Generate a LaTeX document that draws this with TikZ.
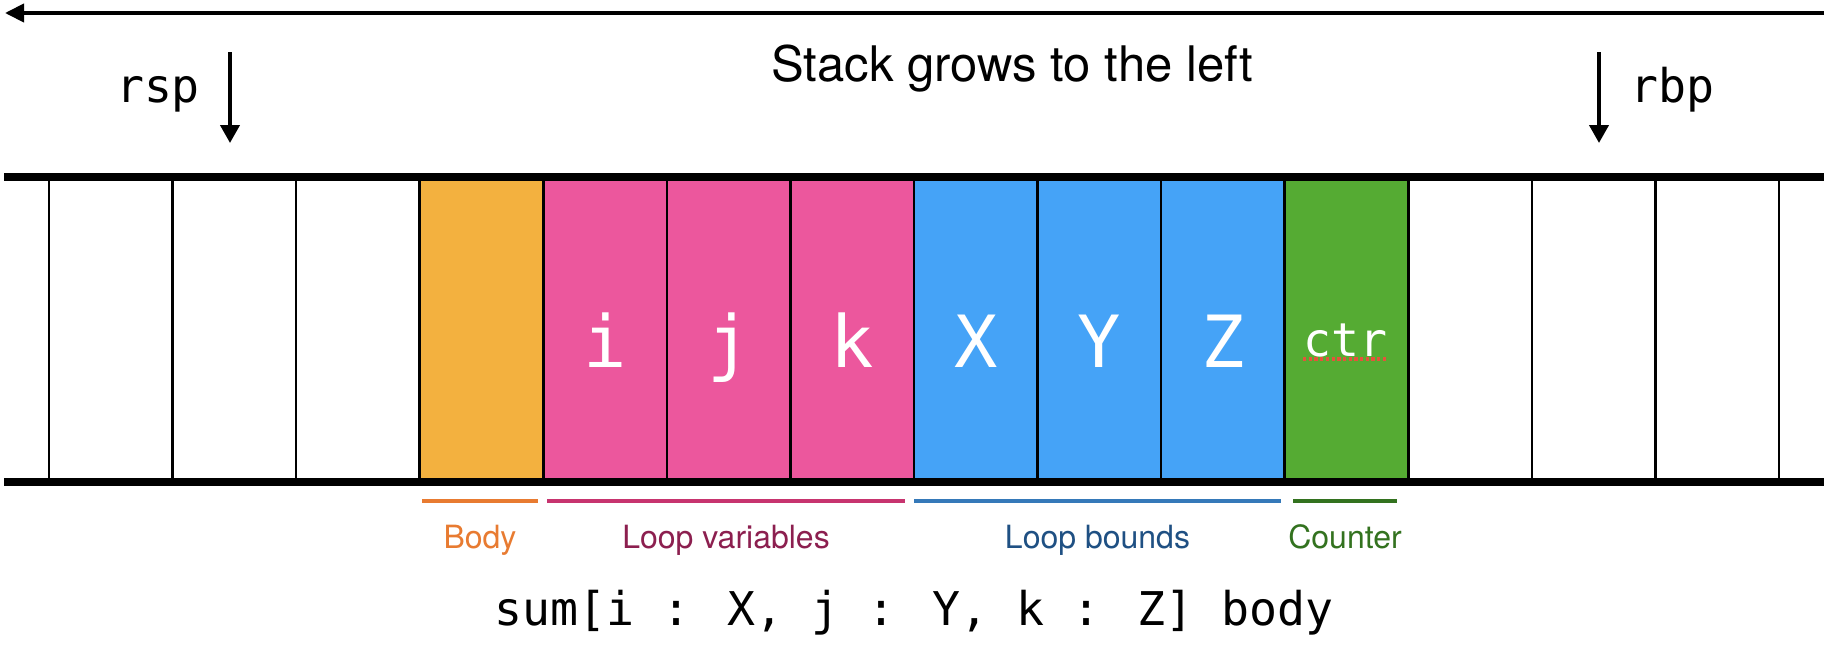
\documentclass[tikz,border=0pt]{standalone}
\usepackage{fontspec}
\setmainfont{TeX Gyre Heros}
\newfontfamily\monofont{DejaVu Sans Mono}
\usetikzlibrary{arrows.meta}
\definecolor{cellorange}{HTML}{F3B13F}
\definecolor{cellpink}{HTML}{EC579D}
\definecolor{cellblue}{HTML}{45A3F7}
\definecolor{cellgreen}{HTML}{55AB33}
\definecolor{barorange}{HTML}{E87B31}
\definecolor{barpink}{HTML}{C7346F}
\definecolor{txtpink}{HTML}{8C1F4F}
\definecolor{barblue}{HTML}{3579B9}
\definecolor{txtblue}{HTML}{1F5083}
\definecolor{bargreen}{HTML}{33721F}
\definecolor{spellred}{HTML}{E5533C}
\begin{document}
\begin{tikzpicture}[x=1pt,y=-1pt,
  cellbox/.style={rectangle, inner sep=0pt, outer sep=0pt, draw=none,
    minimum width=123.6pt, minimum height=305pt},
  divider/.style={line width=2.5pt, black},
  rail/.style={line width=8pt, black},
  ptr/.style={line width=4pt, black, -{Triangle[length=18pt,width=19pt]}},
  celltext/.style={inner sep=0pt, anchor=base, text=white, font=\monofont\fontsize{72}{86}\selectfont},
  codetext/.style={inner sep=0pt, anchor=base, font=\monofont\fontsize{46.5}{56}\selectfont},
  labeltext/.style={inner sep=0pt, anchor=base, font=\fontsize{32}{38}\selectfont},
  bar/.style={line width=4pt}]
\useasboundingbox (0,0) rectangle (1840,656);
\fill[white] (0,0) rectangle (1840,656);

% coloured cells
\node[cellbox, fill=cellorange] (body) at (481.5,329.5) {};
\node[cellbox, fill=cellpink] (ci) at (605.1,329.5) {};
\node[cellbox, fill=cellpink] (cj) at (728.7,329.5) {};
\node[cellbox, fill=cellpink] (ck) at (852.2,329.5) {};
\node[cellbox, fill=cellblue] (cx) at (975.8,329.5) {};
\node[cellbox, fill=cellblue] (cy) at (1099.4,329.5) {};
\node[cellbox, fill=cellblue] (cz) at (1223,329.5) {};
\node[cellbox, fill=cellgreen] (cctr) at (1346.6,329.5) {};

% dividers
\foreach \n in {0,...,14} {
  \draw[divider] ({49+123.57*\n},177) -- ({49+123.57*\n},482);
}

% rails
\coordinate (railTL) at (4,177);
\coordinate (railTR) at (1824,177);
\coordinate (railBL) at (4,482);
\coordinate (railBR) at (1824,482);
\draw[rail] (railTL) -- (railTR);
\draw[rail] (railBL) -- (railBR);

% cell texts
\node[celltext] (ti) at (605.1,367) {i};
\node[celltext] (tj) at (728.7,367) {j};
\node[celltext] (tk) at (852.2,367) {k};
\node[celltext] (tx) at (975.8,367) {X};
\node[celltext] (ty) at (1099.4,367) {Y};
\node[celltext] (tz) at (1223,367) {Z};
\node[codetext, text=white] (tctr) at (1345,356) {ctr};
\coordinate (ulA) at (1303,359);
\coordinate (ulB) at (1387,359);
\draw[spellred, line width=3.3pt, dash pattern=on 3.3pt off 2.4pt] (ulA) -- (ulB);

% top arrow and title
\coordinate (growR) at (1824,13);
\coordinate (growL) at (5,13);
\draw[line width=4pt, -{Triangle[length=19pt,width=18pt]}] (growR) -- (growL);
\node[inner sep=0pt, anchor=base, font=\fontsize{49}{58}\selectfont] (title) at (1012,81) {Stack grows to the left};

% pointers
\node[codetext] (rsp) at (158,102) {rsp};
\coordinate (rspA) at (230,52);
\coordinate (rspB) at (230,143);
\draw[ptr] (rspA) -- (rspB);
\node[codetext] (rbp) at (1672,102) {rbp};
\coordinate (rbpA) at (1599,52);
\coordinate (rbpB) at (1599,143);
\draw[ptr] (rbpA) -- (rbpB);

% bracket bars
\coordinate (b1a) at (422,501); \coordinate (b1b) at (538,501);
\coordinate (b2a) at (547,501); \coordinate (b2b) at (905,501);
\coordinate (b3a) at (914,501); \coordinate (b3b) at (1281,501);
\coordinate (b4a) at (1293,501); \coordinate (b4b) at (1397,501);
\draw[bar, barorange] (b1a) -- (b1b);
\draw[bar, barpink] (b2a) -- (b2b);
\draw[bar, barblue] (b3a) -- (b3b);
\draw[bar, bargreen] (b4a) -- (b4b);
\node[labeltext, text=barorange] (lbody) at (480,548) {Body};
\node[labeltext, text=txtpink] (lvars) at (726,548) {Loop variables};
\node[labeltext, text=txtblue] (lbounds) at (1097.5,548) {Loop bounds};
\node[labeltext, text=bargreen] (lctr) at (1345,548) {Counter};

% code
\node[codetext] (code) at (914,625) {sum[i : X, j : Y, k : Z] body};
\end{tikzpicture}
\end{document}
